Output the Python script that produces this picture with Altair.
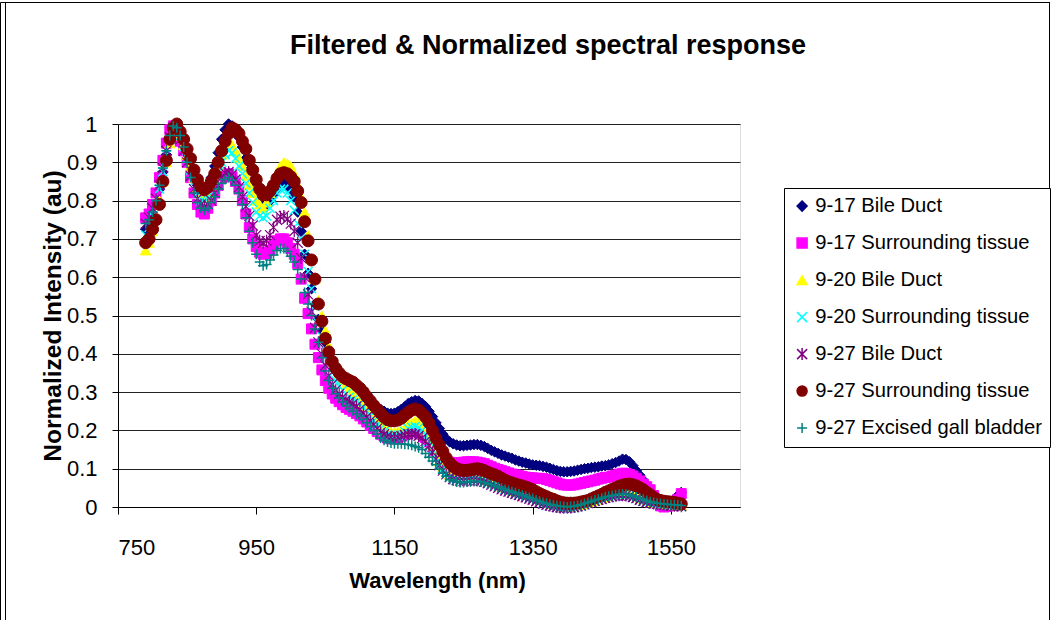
import altair as alt
import pandas as pd

# ---------------- data (every 5 nm) ----------------
wavelength = [790, 795, 800, 805, 810, 815, 820, 825, 830, 835,
              840, 845, 850, 855, 860, 865, 870, 875, 880, 885,
              890, 895, 900, 905, 910, 915, 920, 925, 930, 935,
              940, 945, 950, 955, 960, 965, 970, 975, 980, 985,
              990, 995, 1000, 1005, 1010, 1015, 1020, 1025, 1030, 1035,
              1040, 1045, 1050, 1055, 1060, 1065, 1070, 1075, 1080, 1085,
              1090, 1095, 1100, 1105, 1110, 1115, 1120, 1125, 1130, 1135,
              1140, 1145, 1150, 1155, 1160, 1165, 1170, 1175, 1180, 1185,
              1190, 1195, 1200, 1205, 1210, 1215, 1220, 1225, 1230, 1235,
              1240, 1245, 1250, 1255, 1260, 1265, 1270, 1275, 1280, 1285,
              1290, 1295, 1300, 1305, 1310, 1315, 1320, 1325, 1330, 1335,
              1340, 1345, 1350, 1355, 1360, 1365, 1370, 1375, 1380, 1385,
              1390, 1395, 1400, 1405, 1410, 1415, 1420, 1425, 1430, 1435,
              1440, 1445, 1450, 1455, 1460, 1465, 1470, 1475, 1480, 1485,
              1490, 1495, 1500, 1505, 1510, 1515, 1520, 1525, 1530, 1535,
              1540, 1545, 1550, 1555, 1560, 1565]

bile_duct_917 = [0.725, 0.735, 0.76, 0.79, 0.83, 0.875, 0.92, 0.96, 0.99, 0.995,
                 0.97, 0.945, 0.92, 0.89, 0.86, 0.84, 0.82, 0.815, 0.83, 0.86,
                 0.89, 0.925, 0.96, 0.985, 1.0, 0.995, 0.985, 0.965, 0.94, 0.91,
                 0.88, 0.85, 0.82, 0.80, 0.79, 0.79, 0.80, 0.815, 0.83, 0.845,
                 0.845, 0.84, 0.83, 0.81, 0.77, 0.72, 0.66, 0.61, 0.57, 0.53,
                 0.49, 0.46, 0.43, 0.40, 0.375, 0.36, 0.345, 0.335, 0.328, 0.322,
                 0.317, 0.311, 0.305, 0.298, 0.29, 0.28, 0.27, 0.262, 0.255, 0.25,
                 0.245, 0.244, 0.245, 0.249, 0.255, 0.262, 0.27, 0.275, 0.278, 0.277,
                 0.27, 0.262, 0.25, 0.236, 0.22, 0.205, 0.19, 0.178, 0.17, 0.165,
                 0.162, 0.16, 0.16, 0.161, 0.162, 0.163, 0.163, 0.161, 0.158, 0.153,
                 0.148, 0.144, 0.14, 0.136, 0.133, 0.13, 0.127, 0.123, 0.12, 0.117,
                 0.115, 0.112, 0.11, 0.109, 0.108, 0.106, 0.104, 0.101, 0.098, 0.095,
                 0.093, 0.092, 0.092, 0.093, 0.094, 0.096, 0.098, 0.1, 0.101, 0.103,
                 0.104, 0.105, 0.107, 0.108, 0.11, 0.113, 0.116, 0.12, 0.125, 0.124,
                 0.118, 0.108, 0.095, 0.083, 0.07, 0.055, 0.04, 0.028, 0.02, 0.017,
                 0.015, 0.014, 0.015, 0.02, 0.03, 0.038]

tissue_917 = [0.755, 0.765, 0.79, 0.82, 0.86, 0.905, 0.95, 0.985, 0.995, 0.98,
              0.955, 0.93, 0.90, 0.86, 0.82, 0.79, 0.77, 0.765, 0.78, 0.80,
              0.82, 0.84, 0.86, 0.868, 0.87, 0.862, 0.85, 0.83, 0.80, 0.765,
              0.73, 0.70, 0.68, 0.665, 0.66, 0.662, 0.67, 0.682, 0.695, 0.70,
              0.70, 0.69, 0.675, 0.66, 0.635, 0.595, 0.545, 0.505, 0.465, 0.425,
              0.39, 0.358, 0.33, 0.31, 0.295, 0.284, 0.275, 0.267, 0.26, 0.255,
              0.25, 0.244, 0.238, 0.23, 0.222, 0.213, 0.205, 0.197, 0.19, 0.185,
              0.18, 0.178, 0.178, 0.18, 0.185, 0.19, 0.195, 0.198, 0.2, 0.197,
              0.19, 0.181, 0.17, 0.157, 0.145, 0.134, 0.125, 0.12, 0.117, 0.115,
              0.115, 0.116, 0.117, 0.118, 0.118, 0.118, 0.117, 0.115, 0.113, 0.109,
              0.105, 0.101, 0.098, 0.095, 0.092, 0.089, 0.086, 0.084, 0.082, 0.08,
              0.078, 0.077, 0.076, 0.075, 0.075, 0.074, 0.072, 0.069, 0.066, 0.063,
              0.06, 0.058, 0.057, 0.057, 0.058, 0.06, 0.062, 0.064, 0.066, 0.068,
              0.07, 0.073, 0.075, 0.077, 0.078, 0.081, 0.083, 0.086, 0.088, 0.088,
              0.085, 0.081, 0.075, 0.068, 0.06, 0.053, 0.045, 0.03, 0.01, 0.003,
              0.0, 0.002, 0.005, 0.012, 0.02, 0.035]

bile_duct_920 = [0.67, 0.69, 0.72, 0.755, 0.80, 0.85, 0.90, 0.95, 0.985, 0.995,
                 0.97, 0.945, 0.92, 0.89, 0.86, 0.835, 0.815, 0.808, 0.82, 0.84,
                 0.86, 0.89, 0.92, 0.94, 0.95, 0.945, 0.93, 0.91, 0.89, 0.865,
                 0.84, 0.82, 0.80, 0.79, 0.78, 0.795, 0.82, 0.845, 0.87, 0.89,
                 0.90, 0.897, 0.89, 0.87, 0.84, 0.81, 0.77, 0.71, 0.65, 0.595,
                 0.54, 0.50, 0.46, 0.42, 0.39, 0.365, 0.345, 0.332, 0.32, 0.31,
                 0.30, 0.293, 0.285, 0.275, 0.265, 0.253, 0.24, 0.228, 0.215, 0.207,
                 0.20, 0.196, 0.195, 0.197, 0.2, 0.207, 0.215, 0.22, 0.225, 0.223,
                 0.215, 0.2, 0.18, 0.16, 0.14, 0.12, 0.105, 0.093, 0.085, 0.081,
                 0.078, 0.077, 0.077, 0.078, 0.08, 0.081, 0.08, 0.078, 0.075, 0.071,
                 0.068, 0.064, 0.06, 0.056, 0.052, 0.048, 0.045, 0.042, 0.04, 0.037,
                 0.035, 0.032, 0.03, 0.026, 0.022, 0.018, 0.015, 0.011, 0.008, 0.005,
                 0.003, 0.001, 0.0, 0.001, 0.002, 0.004, 0.006, 0.009, 0.012, 0.015,
                 0.018, 0.021, 0.024, 0.027, 0.03, 0.033, 0.035, 0.037, 0.038, 0.038,
                 0.036, 0.033, 0.03, 0.026, 0.022, 0.018, 0.015, 0.012, 0.01, 0.009,
                 0.008, 0.007, 0.006, 0.005, 0.004, 0.003]

tissue_920 = [0.71, 0.73, 0.76, 0.79, 0.83, 0.875, 0.92, 0.96, 0.99, 0.99,
              0.97, 0.94, 0.91, 0.88, 0.85, 0.82, 0.80, 0.795, 0.81, 0.83,
              0.85, 0.875, 0.90, 0.92, 0.93, 0.925, 0.91, 0.89, 0.87, 0.845,
              0.82, 0.795, 0.77, 0.76, 0.755, 0.76, 0.78, 0.80, 0.82, 0.83,
              0.83, 0.82, 0.80, 0.775, 0.74, 0.70, 0.66, 0.615, 0.57, 0.525,
              0.48, 0.445, 0.41, 0.38, 0.35, 0.33, 0.315, 0.305, 0.295, 0.287,
              0.28, 0.275, 0.27, 0.26, 0.25, 0.238, 0.225, 0.215, 0.205, 0.197,
              0.19, 0.187, 0.185, 0.187, 0.19, 0.197, 0.205, 0.208, 0.21, 0.207,
              0.2, 0.187, 0.17, 0.15, 0.13, 0.115, 0.1, 0.089, 0.08, 0.075,
              0.072, 0.07, 0.07, 0.071, 0.072, 0.072, 0.072, 0.07, 0.068, 0.064,
              0.06, 0.056, 0.052, 0.048, 0.045, 0.041, 0.038, 0.035, 0.032, 0.029,
              0.026, 0.023, 0.02, 0.016, 0.013, 0.009, 0.006, 0.003, 0.001, -0.001,
              -0.003, -0.004, -0.004, -0.003, -0.002, 0.0, 0.003, 0.006, 0.009, 0.012,
              0.015, 0.018, 0.02, 0.023, 0.025, 0.027, 0.029, 0.03, 0.03, 0.03,
              0.028, 0.025, 0.022, 0.018, 0.015, 0.012, 0.01, 0.008, 0.007, 0.006,
              0.005, 0.004, 0.003, 0.002, 0.002, 0.001]

bile_duct_927 = [0.74, 0.755, 0.78, 0.805, 0.84, 0.885, 0.93, 0.965, 0.99, 0.985,
                 0.96, 0.93, 0.90, 0.865, 0.83, 0.805, 0.79, 0.785, 0.79, 0.80,
                 0.82, 0.84, 0.86, 0.872, 0.875, 0.868, 0.855, 0.835, 0.81, 0.785,
                 0.76, 0.735, 0.71, 0.695, 0.69, 0.695, 0.71, 0.73, 0.75, 0.758,
                 0.76, 0.752, 0.74, 0.72, 0.69, 0.65, 0.60, 0.555, 0.51, 0.468,
                 0.43, 0.40, 0.37, 0.343, 0.32, 0.305, 0.295, 0.287, 0.28, 0.275,
                 0.27, 0.263, 0.255, 0.245, 0.235, 0.225, 0.215, 0.205, 0.195, 0.19,
                 0.185, 0.182, 0.18, 0.182, 0.185, 0.188, 0.19, 0.19, 0.19, 0.186,
                 0.18, 0.172, 0.16, 0.143, 0.125, 0.109, 0.095, 0.085, 0.078, 0.073,
                 0.07, 0.069, 0.068, 0.069, 0.07, 0.07, 0.07, 0.068, 0.066, 0.062,
                 0.058, 0.054, 0.05, 0.046, 0.043, 0.04, 0.037, 0.034, 0.031, 0.028,
                 0.025, 0.022, 0.019, 0.015, 0.012, 0.009, 0.006, 0.004, 0.002, 0.0,
                 -0.001, -0.002, -0.002, -0.001, 0.0, 0.002, 0.004, 0.007, 0.01, 0.013,
                 0.016, 0.019, 0.021, 0.024, 0.026, 0.028, 0.03, 0.031, 0.031, 0.03,
                 0.029, 0.026, 0.023, 0.019, 0.016, 0.013, 0.011, 0.009, 0.008, 0.007,
                 0.006, 0.005, 0.004, 0.003, 0.003, 0.002]

tissue_927 = [0.69, 0.70, 0.725, 0.75, 0.79, 0.85, 0.905, 0.96, 0.99, 1.0,
              0.98, 0.96, 0.935, 0.91, 0.88, 0.855, 0.835, 0.828, 0.835, 0.85,
              0.87, 0.90, 0.93, 0.955, 0.975, 0.99, 0.985, 0.975, 0.955, 0.935,
              0.905, 0.88, 0.855, 0.83, 0.815, 0.815, 0.825, 0.84, 0.858, 0.87,
              0.873, 0.87, 0.862, 0.85, 0.825, 0.795, 0.745, 0.695, 0.645, 0.595,
              0.53, 0.485, 0.44, 0.405, 0.38, 0.362, 0.35, 0.34, 0.335, 0.33,
              0.326, 0.318, 0.31, 0.30, 0.288, 0.277, 0.265, 0.255, 0.245, 0.235,
              0.228, 0.225, 0.225, 0.227, 0.232, 0.24, 0.247, 0.253, 0.256, 0.253,
              0.245, 0.235, 0.22, 0.2, 0.18, 0.162, 0.145, 0.128, 0.115, 0.106,
              0.1, 0.097, 0.095, 0.096, 0.097, 0.099, 0.1, 0.098, 0.095, 0.091,
              0.087, 0.084, 0.08, 0.075, 0.07, 0.066, 0.063, 0.06, 0.057, 0.055,
              0.052, 0.049, 0.045, 0.04, 0.035, 0.031, 0.027, 0.023, 0.02, 0.016,
              0.013, 0.011, 0.01, 0.01, 0.01, 0.011, 0.013, 0.015, 0.017, 0.021,
              0.025, 0.029, 0.033, 0.038, 0.042, 0.046, 0.05, 0.054, 0.057, 0.059,
              0.06, 0.058, 0.055, 0.05, 0.045, 0.038, 0.032, 0.025, 0.02, 0.017,
              0.015, 0.014, 0.013, 0.012, 0.01, 0.008]

gall_bladder_927 = [0.74, 0.75, 0.77, 0.80, 0.84, 0.885, 0.93, 0.97, 0.995, 0.99,
                    0.97, 0.94, 0.90, 0.86, 0.82, 0.795, 0.78, 0.775, 0.78, 0.795,
                    0.81, 0.83, 0.845, 0.855, 0.86, 0.853, 0.84, 0.82, 0.79, 0.755,
                    0.72, 0.69, 0.66, 0.64, 0.63, 0.633, 0.645, 0.658, 0.67, 0.675,
                    0.675, 0.668, 0.655, 0.64, 0.62, 0.595, 0.56, 0.53, 0.50, 0.465,
                    0.43, 0.39, 0.355, 0.33, 0.31, 0.296, 0.285, 0.274, 0.265, 0.257,
                    0.25, 0.243, 0.237, 0.229, 0.22, 0.21, 0.2, 0.19, 0.18, 0.174,
                    0.17, 0.167, 0.165, 0.165, 0.165, 0.164, 0.163, 0.161, 0.158, 0.155,
                    0.15, 0.14, 0.13, 0.12, 0.11, 0.099, 0.088, 0.08, 0.072, 0.068,
                    0.065, 0.064, 0.064, 0.065, 0.066, 0.067, 0.067, 0.066, 0.064, 0.061,
                    0.058, 0.055, 0.052, 0.049, 0.046, 0.043, 0.04, 0.037, 0.034, 0.031,
                    0.028, 0.025, 0.022, 0.018, 0.015, 0.012, 0.01, 0.007, 0.005, 0.003,
                    0.002, 0.001, 0.0, 0.001, 0.002, 0.004, 0.006, 0.009, 0.012, 0.015,
                    0.018, 0.02, 0.023, 0.026, 0.028, 0.03, 0.032, 0.033, 0.034, 0.034,
                    0.032, 0.029, 0.026, 0.023, 0.02, 0.017, 0.014, 0.012, 0.01, 0.009,
                    0.008, 0.007, 0.006, 0.006, 0.005, 0.004]

series_names = ["9-17 Bile Duct", "9-17 Surrounding tissue", "9-20 Bile Duct",
                "9-20 Surrounding tissue", "9-27 Bile Duct",
                "9-27 Surrounding tissue", "9-27 Excised gall bladder"]
series_values = [bile_duct_917, tissue_917, bile_duct_920, tissue_920,
                 bile_duct_927, tissue_927, gall_bladder_927]

x_ticks = [750, 950, 1150, 1350, 1550]
y_ticks = [0, 0.1, 0.2, 0.3, 0.4, 0.5, 0.6, 0.7, 0.8, 0.9, 1]

# ---------------- styles ----------------
colors = ["#000080", "#FF00FF", "#FFFF00", "#00FFFF", "#800080", "#800000", "#008080"]
shapes = ["diamond", "square", "triangle-up",
          "M-1,-1L1,1M-1,1L1,-1",
          "M-1,-1L1,1M-1,1L1,-1M0,-1.2L0,1.2",
          "circle",
          "M-1,0L1,0M0,-1L0,1"]
marker_sizes = [110, 100, 110, 81, 100, 144, 100]
marker_strokes = [1, 1, 1, 1.5, 1.2, 1, 1.5]

FONT = "Liberation Sans"

rows = []
for name, vals in zip(series_names, series_values):
    for w, v in zip(wavelength, vals):
        rows.append({"wavelength": w, "intensity": v, "series": name})
df = pd.DataFrame(rows)

legend = alt.Legend(
    title=None, orient="none", legendX=666, legendY=64, direction="vertical",
    strokeColor="black", fillColor="white", padding=8,
    labelFont=FONT, labelFontSize=20.2, labelColor="black", labelLimit=400,
    labelOffset=3, rowPadding=16, symbolSize=100, symbolStrokeWidth=1.5,
    symbolOpacity=1,
)

x_enc = alt.X(
    "wavelength:Q",
    scale=alt.Scale(domain=[750, 1650], nice=False, zero=False),
    axis=alt.Axis(
        values=x_ticks, format="d", grid=False,
        domainColor="black", domainWidth=1, tickColor="black", tickSize=7,
        labelFont=FONT, labelFontSize=22, labelColor="black", labelPadding=23,
        title="Wavelength (nm)", titleFont=FONT, titleFontSize=22,
        titleFontWeight="bold", titleColor="black",
        titleX=319, titleY=80, titleBaseline="alphabetic", titleAlign="center",
    ),
)
y_enc = alt.Y(
    "intensity:Q",
    scale=alt.Scale(domain=[0, 1], nice=False, zero=False),
    axis=alt.Axis(
        values=y_ticks, format="~g", grid=True, gridColor="#222", gridWidth=1.2,
        domainColor="black", domainWidth=1, tickColor="black", tickSize=6,
        labelFont=FONT, labelFontSize=22, labelColor="black", labelPadding=15,
        title="Normalized Intensity (au)", titleFont=FONT, titleFontSize=24.5,
        titleFontWeight="bold", titleColor="black", titleAngle=270,
        titleX=-58, titleY=191.5, titleBaseline="alphabetic", titleAlign="center",
    ),
)
fill_enc = alt.Fill("series:N", scale=alt.Scale(domain=series_names, range=colors), legend=legend)
stroke_enc = alt.Stroke("series:N", scale=alt.Scale(domain=series_names, range=colors), legend=legend)
shape_enc = alt.Shape("series:N", scale=alt.Scale(domain=series_names, range=shapes), legend=legend)

layers = []
for name, sz, sw in zip(series_names, marker_sizes, marker_strokes):
    layers.append(
        alt.Chart(df)
        .transform_filter(alt.datum.series == name)
        .mark_point(filled=True, opacity=1, size=sz, strokeWidth=sw)
        .encode(x=x_enc, y=y_enc, fill=fill_enc, stroke=stroke_enc, shape=shape_enc)
    )

# outer chart frame (Excel chart-area border)
one = pd.DataFrame({"k": [0]})
frame_top = alt.Chart(one).mark_rule(color="black", strokeWidth=1).encode(
    x=alt.value(-117.5), x2=alt.value(932), y=alt.value(-121.5))
frame_left1 = alt.Chart(one).mark_rule(color="black", strokeWidth=1).encode(
    x=alt.value(-117.5), y=alt.value(-121.5), y2=alt.value(496))
frame_left2 = alt.Chart(one).mark_rule(color="black", strokeWidth=1).encode(
    x=alt.value(-112.5), y=alt.value(-121.5), y2=alt.value(496))
frame_right = alt.Chart(one).mark_rule(color="black", strokeWidth=1).encode(
    x=alt.value(931.5), y=alt.value(-121.5), y2=alt.value(496))

chart = alt.layer(*layers, frame_top, frame_left1, frame_left2, frame_right).properties(
    width=622,
    height=383,
    padding={"left": 0, "top": 2, "right": 0, "bottom": 0},
    title=alt.TitleParams(
        "Filtered & Normalized spectral response",
        font=FONT, fontSize=27, fontWeight="bold", color="black",
        anchor="middle", baseline="alphabetic", offset=-79, dx=119,
    ),
).configure_view(stroke="transparent").configure(background="white")

chart.save("out.html", embed_options={"renderer": "svg", "actions": False})
